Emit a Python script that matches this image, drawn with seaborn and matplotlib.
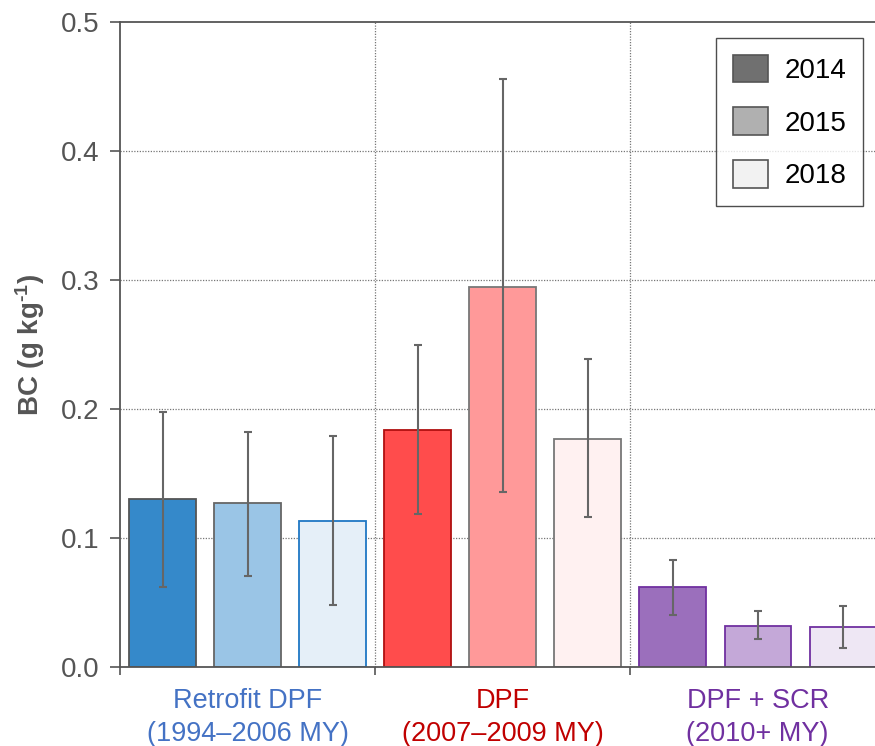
import matplotlib
matplotlib.use("Agg")
import matplotlib.pyplot as plt
import matplotlib.patches as mpatches
import matplotlib.transforms as mtransforms
import seaborn as sns
import pandas as pd
import numpy as np

# ---- data ----
groups = ["Retrofit DPF\n(1994\u20132006 MY)", "DPF\n(2007\u20132009 MY)", "DPF + SCR\n(2010+ MY)"]
group_colors = ["#4472C4", "#C00000", "#7030A0"]
years = ["2014", "2015", "2018"]
bar_ids = ["R2014", "R2015", "R2018", "D2014", "D2015", "D2018", "S2014", "S2015", "S2018"]
bc_mean = [0.1305, 0.1269, 0.1132, 0.1837, 0.2946, 0.1770, 0.0623, 0.0320, 0.0310]
bc_low = [0.0623, 0.0703, 0.0483, 0.1189, 0.1357, 0.1165, 0.0403, 0.0217, 0.0147]
bc_high = [0.1977, 0.1824, 0.1790, 0.2500, 0.4560, 0.2385, 0.0829, 0.0437, 0.0470]
fill_colors = ["#3589CA", "#9AC5E6", "#E5EFF8",
               "#FF4C4C", "#FF9999", "#FFF1F1",
               "#9B6FBC", "#C4A8D8", "#EEE7F4"]
edge_colors = ["#555555", "#666666", "#1F77C4",
               "#B01010", "#777777", "#777777",
               "#7030A0", "#7030A0", "#7030A0"]
legend_fills = ["#707070", "#B0B0B0", "#F2F2F2"]
yticks = [0.0, 0.1, 0.2, 0.3, 0.4, 0.5]

df = pd.DataFrame({"bar": bar_ids, "bc": bc_mean})

plt.rcParams["font.family"] = ["Liberation Sans", "DejaVu Sans"]
plt.rcParams["mathtext.default"] = "regular"

fig = plt.figure(figsize=(8.75, 7.46), dpi=100)
ax = fig.add_axes([120 / 875, 1 - 667 / 746, 1 - 120 / 875, (667 - 22) / 746])

sns.barplot(data=df, x="bar", y="bc", hue="bar", order=bar_ids, hue_order=bar_ids,
            palette=dict(zip(bar_ids, fill_colors)), width=0.78, legend=False,
            errorbar=None, ax=ax, zorder=2, saturation=1)
for p, ec in zip(ax.patches, edge_colors):
    p.set_edgecolor(ec)
    p.set_linewidth(1.3)

xs = np.arange(len(bar_ids))
mean = np.array(bc_mean)
yerr = np.vstack([mean - np.array(bc_low), np.array(bc_high) - mean])
ax.errorbar(xs, mean, yerr=yerr, fmt="none", ecolor="#666666", elinewidth=1.5,
            capsize=2.6, capthick=1.5, zorder=3)

ax.set_ylim(0, 0.5)
ax.set_xlim(-0.5, 8.38)
ax.set_yticks(yticks)
ax.set_yticklabels([f"{t:.1f}" for t in yticks])
ax.tick_params(axis="y", labelsize=20, colors="#555555", length=7, width=1.2, pad=8)
ax.set_xticks([-0.5, 2.5, 5.5])
ax.set_xticklabels([])
ax.tick_params(axis="x", length=6, width=1.2, colors="#555555")
ax.set_xlabel("")
ax.set_ylabel("BC (g kg$^{\u2010 1}$)", fontsize=20, fontweight="bold", color="#555555", labelpad=10)

for yv in yticks[1:-1]:
    ax.axhline(yv, color="#777777", lw=0.9, ls=(0, (1, 1.2)), zorder=1)
for xv in [2.5, 5.5]:
    ax.axvline(xv, color="#777777", lw=0.9, ls=(0, (1, 1.2)), zorder=1)

for s in ["left", "bottom", "top"]:
    ax.spines[s].set_color("#555555")
    ax.spines[s].set_linewidth(1.3)
ax.spines["right"].set_visible(False)

trans = mtransforms.blended_transform_factory(ax.transData, ax.transAxes)
for i, (g, c) in enumerate(zip(groups, group_colors)):
    ax.text(3 * i + 1, -0.033, g, transform=trans, ha="center", va="top",
            fontsize=19.5, color=c, linespacing=1.35)

handles = [mpatches.Patch(facecolor=f, edgecolor="#555555", linewidth=1.2, label=y)
           for f, y in zip(legend_fills, years)]
leg = ax.legend(handles=handles, loc="upper right",
                bbox_to_anchor=(863 / 875, 1 - 38 / 746), bbox_transform=fig.transFigure,
                fontsize=20, frameon=True, fancybox=False, edgecolor="#222222",
                handlelength=1.25, handleheight=1.15, labelspacing=0.85,
                handletextpad=0.6, borderpad=0.6, borderaxespad=0)
leg.get_frame().set_linewidth(1.0)

fig.savefig("out.png", dpi=100)
